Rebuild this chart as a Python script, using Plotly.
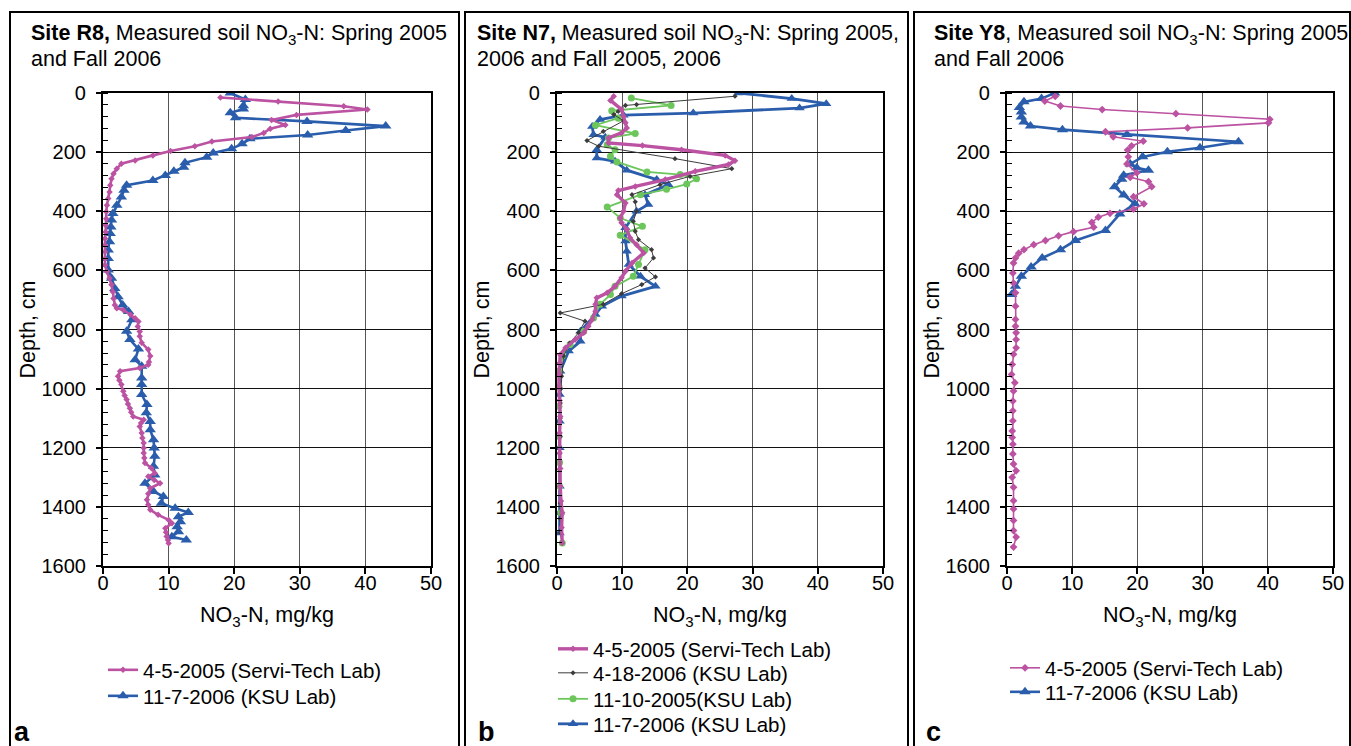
import plotly.graph_objects as go

# ---------------- Data (depth in cm, NO3-N in mg/kg) ----------------
# Panel a: Site R8
r8_0405_depth = [15, 29, 45, 56, 74, 91, 108, 121, 135, 149, 164, 180, 196, 211, 228, 239, 256, 273, 290, 312,
                 335, 357, 380, 402, 425, 447, 470, 492, 515, 537, 560, 582, 604, 627, 649, 672, 695, 717, 728, 734,
                 750, 762, 773, 790, 807, 823, 845, 868, 890, 910, 919, 930, 941, 958, 972, 986, 1009, 1023, 1037, 1052,
                 1066, 1080, 1094, 1105, 1116, 1128, 1150, 1167, 1184, 1201, 1218, 1235, 1252, 1269, 1286, 1297, 1309,
                 1320, 1337, 1356, 1376, 1393, 1410, 1427, 1444, 1455, 1472, 1486, 1500, 1512, 1523]
r8_0405_no3 = [17.9, 26.7, 36.7, 40.3, 29.5, 25.7, 27.8, 25.5, 24.5, 22.7, 16.6, 14.0, 10.3, 7.6, 4.9, 2.8, 2.1, 1.6, 1.3, 1.1,
               1.0, 0.8, 0.6, 0.5, 0.5, 0.4, 0.4, 0.3, 0.3, 0.3, 0.3, 0.3, 0.6, 1.0, 1.3, 1.5, 1.6, 1.8, 2.1, 3.1,
               4.2, 4.9, 5.4, 5.3, 5.6, 5.6, 5.9, 6.9, 7.2, 7.0, 6.9, 5.6, 2.6, 2.3, 2.5, 2.8, 3.1, 3.3, 3.6, 3.8,
               4.1, 4.3, 4.6, 6.2, 5.8, 5.6, 5.9, 6.0, 6.2, 6.2, 6.2, 6.3, 6.4, 7.4, 7.9, 6.9, 7.8,
               8.7, 7.2, 6.9, 6.7, 6.9, 7.2, 8.4, 10.0, 10.5, 9.5, 9.6, 9.7, 9.9, 10.0]
r8_1107_depth = [0, 22, 43, 54, 67, 84, 96, 112, 127, 142, 155, 172, 189, 203, 217, 236, 251, 265, 279, 296,
                 312, 329, 352, 380, 408, 430, 453, 475, 503, 531, 560, 599, 627, 661, 689, 717, 739, 767, 806, 834,
                 866, 902, 924, 964, 986, 1020, 1054, 1082, 1111, 1139, 1173, 1201, 1229, 1263, 1292, 1320, 1348, 1365,
                 1388, 1405, 1419, 1433, 1450, 1467, 1484, 1501, 1512]
r8_1107_no3 = [19.4, 21.7, 21.4, 21.4, 19.4, 20.2, 31.1, 43.1, 37.0, 31.2, 22.4, 21.2, 19.6, 16.8, 15.8, 12.5, 12.3, 10.8, 9.5, 7.6,
               3.6, 3.2, 2.8, 2.1, 1.5, 1.3, 1.2, 1.1, 1.0, 0.8, 0.8, 0.8, 1.3, 1.8, 2.3, 3.0, 3.9, 4.4, 3.6, 4.1,
               5.4, 4.9, 5.9, 5.9, 5.9, 5.9, 6.7, 6.6, 7.2, 7.2, 7.7, 7.8, 7.9, 7.7, 7.9, 6.4, 7.7, 9.2,
               8.9, 11.0, 13.0, 11.5, 11.8, 11.3, 11.5, 10.5, 12.7]

# Panel b: Site N7
n7_0405_depth = [11, 25, 56, 79, 101, 118, 135, 152, 169, 178, 192, 211, 229, 242, 265, 293, 316, 330, 344, 372,
                 400, 423, 439, 462, 490, 513, 541, 575, 603, 625, 654, 676, 693, 715, 738, 766, 789, 811, 834, 862,
                 885, 913, 950, 993, 1040, 1094, 1150, 1218, 1270, 1330, 1380, 1420, 1470, 1522]
n7_0405_no3 = [8.7, 8.2, 9.9, 10.2, 10.5, 10.7, 9.9, 7.9, 7.9, 13.1, 19.1, 25.8, 27.3, 26.3, 21.2, 16.6, 12.0, 9.4, 9.2, 10.5,
               10.2, 9.7, 9.9, 10.7, 11.2, 12.2, 13.3, 11.5, 10.5, 9.9, 8.9, 7.7, 6.1, 5.9, 5.9, 5.4, 4.8, 4.1, 2.8, 1.3,
               0.5, 0.4, 0.3, 0.3, 0.4, 0.5, 0.4, 0.4, 0.5, 0.5, 0.6, 0.8, 0.7, 0.8]
n7_0418_depth = [11, 39, 42, 62, 73, 94, 130, 161, 180, 222, 256, 282, 310, 344, 368, 400, 434, 468, 496, 530,
                 558, 592, 622, 648, 679, 715, 744, 772, 811, 845, 890, 958, 1000, 1049, 1100, 1162, 1220, 1274, 1330,
                 1387, 1440, 1488, 1522]
n7_0418_no3 = [27.3, 12.2, 10.5, 9.4, 8.7, 10.2, 7.1, 4.6, 6.4, 18.1, 26.8, 20.4, 15.8, 11.5, 12.0, 12.2, 11.7, 12.0, 12.5, 14.5,
               14.8, 13.5, 15.1, 13.0, 9.9, 7.1, 0.5, 4.3, 3.3, 2.0, 1.0, 0.7, 0.6, 0.5, 0.5, 0.5, 0.4, 0.4, 0.5,
               0.5, 0.5, 0.5, 0.8]
n7_1110_depth = [17, 42, 60, 85, 109, 137, 152, 175, 192, 214, 233, 267, 276, 290, 308, 326, 344, 386, 423, 451,
                 481, 530, 580, 620, 654, 682, 715, 761, 806, 851, 890, 940, 993, 1060, 1162, 1250, 1330, 1420, 1522]
n7_1110_no3 = [11.4, 17.5, 8.4, 9.4, 5.9, 12.0, 7.9, 7.7, 8.9, 8.2, 9.2, 13.8, 18.9, 21.4, 19.9, 16.8, 12.8, 7.7, 9.7, 13.1,
               9.7, 13.5, 12.5, 11.7, 8.9, 8.2, 6.6, 5.6, 4.1, 2.0, 0.8, 0.4, 0.3, 0.3, 0.3, 0.4, 0.4, 0.6, 0.8]
n7_1107_depth = [0, 19, 36, 51, 68, 75, 90, 113, 141, 150, 192, 220, 231, 261, 293, 310, 344, 377, 400, 456,
                 501, 535, 580, 620, 654, 687, 721, 749, 806, 840, 873, 941, 1020, 1110, 1200, 1330, 1420, 1488]
n7_1107_no3 = [27.8, 36.0, 41.3, 37.2, 20.9, 10.2, 6.6, 5.4, 5.6, 7.4, 6.1, 6.1, 8.9, 10.7, 15.3, 17.1, 13.5, 14.0, 12.2, 10.5,
               10.5, 10.7, 11.0, 12.8, 15.1, 9.9, 6.9, 5.9, 3.6, 3.6, 1.8, 0.5, 0.4, 0.4, 0.4, 0.4, 0.4, 0.4]

# Panel c: Site Y8
y8_0405_depth = [11, 27, 44, 56, 70, 89, 101, 118, 131, 148, 163, 179, 193, 216, 240, 270, 285, 300, 317, 351,
                 375, 393, 407, 420, 438, 454, 469, 483, 499, 513, 530, 542, 558, 575, 609, 643, 676, 721, 766, 789,
                 811, 834, 862, 884, 918, 952, 980, 1008, 1042, 1075, 1109, 1143, 1165, 1188, 1221, 1255, 1278, 1300,
                 1334, 1379, 1407, 1446, 1480, 1502, 1536]
y8_0405_no3 = [7.4, 5.8, 8.2, 14.6, 25.9, 40.3, 40.1, 27.7, 15.1, 16.3, 20.9, 19.1, 18.5, 18.6, 18.4, 19.9, 18.9, 21.7, 22.2, 19.4,
               21.0, 19.4, 15.8, 14.0, 13.0, 13.3, 10.2, 7.9, 5.9, 4.1, 2.6, 1.8, 1.3, 1.0, 0.9, 1.0, 1.3, 1.3, 1.3, 1.3,
               1.4, 1.4, 1.4, 1.0, 0.8, 0.7, 1.2, 1.0, 0.9, 0.9, 0.9, 0.8, 0.8, 0.9, 0.9, 1.0, 1.4, 0.8,
               1.0, 1.0, 1.0, 1.0, 1.0, 1.4, 1.0]
y8_1107_depth = [0, 19, 30, 49, 64, 81, 98, 112, 124, 140, 165, 185, 199, 216, 240, 253, 261, 278, 292, 317,
                 345, 375, 409, 465, 499, 530, 558, 589, 620, 654, 682]
y8_1107_no3 = [7.3, 5.3, 2.6, 1.9, 2.2, 2.2, 2.6, 3.6, 8.5, 18.4, 35.5, 29.6, 24.6, 20.8, 18.9, 19.9, 21.7, 17.9, 17.6, 16.5,
               17.9, 19.6, 17.3, 15.1, 10.5, 8.2, 5.4, 3.7, 2.2, 1.3, 0.7]

x_ticks = [0, 10, 20, 30, 40, 50]
y_ticks = [0, 200, 400, 600, 800, 1000, 1200, 1400, 1600]

# ---------------- Styles ----------------
W, H = 1351, 746
FONT = "Liberation Sans, Arial, sans-serif"
TXT = 21.5
MAG = "#BC52A2"
BLU = "#2A5DAB"
GRN = "#6CC65C"
BLK = "#3C3C3C"

fig = go.Figure()
legends = {}

def px_leg(x_text, y_center):
    # single-entry legend placed by the pixel position of its text start / row center
    return dict(x=(x_text - 41) / W, y=1 - y_center / H, xanchor="left", yanchor="middle",
                bgcolor="rgba(0,0,0,0)", font=dict(size=20.5, family=FONT), itemwidth=30)

def add(x, y, name, color, lw, sym, ms, xa, ya, leg, legpos):
    fig.add_trace(go.Scatter(
        x=x, y=y, name=name, mode="lines+markers",
        line=dict(color=color, width=lw),
        marker=dict(symbol=sym, size=ms, color=color, line=dict(width=0)),
        xaxis=xa, yaxis=ya, legend=leg))
    legends[leg] = px_leg(*legpos)

# panel a (blue drawn first so magenta is on top)
add(r8_1107_no3, r8_1107_depth, "11-7-2006 (KSU Lab)", BLU, 2.6, "triangle-up", 10, "x", "y", "legend2", (144, 696))
add(r8_0405_no3, r8_0405_depth, "4-5-2005 (Servi-Tech Lab)", MAG, 2.6, "diamond", 5, "x", "y", "legend", (144, 670))
# panel b
add(n7_1107_no3, n7_1107_depth, "11-7-2006 (KSU Lab)", BLU, 2.8, "triangle-up", 9, "x2", "y2", "legend6", (594, 724))
add(n7_1110_no3, n7_1110_depth, "11-10-2005(KSU Lab)", GRN, 1.8, "circle", 7, "x2", "y2", "legend5", (594, 699))
add(n7_0418_no3, n7_0418_depth, "4-18-2006 (KSU Lab)", BLK, 1.0, "diamond", 4, "x2", "y2", "legend4", (594, 673))
add(n7_0405_no3, n7_0405_depth, "4-5-2005 (Servi-Tech Lab)", MAG, 3.4, "diamond", 5, "x2", "y2", "legend3", (594, 649))
# panel c
add(y8_1107_no3, y8_1107_depth, "11-7-2006 (KSU Lab)", BLU, 2.6, "triangle-up", 10, "x3", "y3", "legend8", (1046, 692))
add(y8_0405_no3, y8_0405_depth, "4-5-2005 (Servi-Tech Lab)", MAG, 1.6, "diamond", 6, "x3", "y3", "legend7", (1046, 668))

xdoms = [[103 / W, 431 / W], [557 / W, 883 / W], [1007 / W, 1333 / W]]
ydom = [1 - 566 / H, 1 - 93 / H]

layout = dict(
    width=W, height=H, margin=dict(l=0, r=0, t=0, b=0, autoexpand=False),
    paper_bgcolor="white", plot_bgcolor="white",
    font=dict(family=FONT, size=20, color="black"),
    showlegend=True,
)
layout.update(legends)

for i in range(3):
    sx = "" if i == 0 else str(i + 1)
    layout["xaxis" + sx] = dict(
        domain=xdoms[i], anchor="y" + sx, range=[0, 50], tickvals=x_ticks,
        ticks="outside", ticklen=6, tickwidth=1.5, tickcolor="black",
        showgrid=True, gridcolor="#555555", gridwidth=1.3,
        showline=True, linecolor="black", linewidth=2.2, mirror=True, zeroline=False,
        tickfont=dict(size=20), ticklabelstandoff=-8, fixedrange=True, automargin=False,
        title=dict(text="NO<sub>3</sub>-N, mg/kg", font=dict(size=TXT), standoff=14),
    )
    layout["yaxis" + sx] = dict(
        domain=ydom, anchor="x" + sx, range=[1600, 0], tickvals=y_ticks,
        ticks="outside", ticklen=5, tickwidth=1.5, tickcolor="black",
        minor=dict(dtick=40, ticks="inside", ticklen=5, tickwidth=1.2, tickcolor="black", showgrid=False),
        showgrid=True, gridcolor="#111111", gridwidth=1.3,
        showline=True, linecolor="black", linewidth=2.2, mirror=True, zeroline=False,
        tickfont=dict(size=20), ticklabelstandoff=6, fixedrange=True, automargin=False,
        title=dict(text="Depth, cm", font=dict(size=TXT), standoff=0),
    )
    # top axis carrying the small inner ticks
    layout["xaxis" + str(i + 4)] = dict(
        overlaying="x" + sx, anchor="y" + sx, side="top", range=[0, 50], dtick=10,
        ticks="inside", ticklen=5, tickwidth=1.2, tickcolor="black", showticklabels=False,
        minor=dict(dtick=2, ticks="inside", ticklen=5, tickwidth=1.2, tickcolor="black", showgrid=False),
        showgrid=False, showline=False, zeroline=False, fixedrange=True, automargin=False,
    )

# panel frames
shapes = []
for x0, x1 in [(10, 459), (465, 908), (914, 1350)]:
    shapes.append(dict(type="rect", xref="paper", yref="paper",
                       x0=x0 / W, x1=x1 / W, y0=-0.01, y1=1 - 12 / H,
                       line=dict(color="black", width=2)))
layout["shapes"] = shapes

titles = [
    (30, "<b>Site R8,</b> Measured soil NO<sub>3</sub>-N: Spring 2005", "and Fall 2006"),
    (476, "<b>Site N7,</b> Measured soil NO<sub>3</sub>-N: Spring 2005,", "2006 and Fall 2005, 2006"),
    (933, "<b>Site Y8</b>, Measured soil NO<sub>3</sub>-N: Spring 2005", "and Fall 2006"),
]
ann = []
for x, t1, t2 in titles:
    for yy, t in [(34, t1), (59, t2)]:
        ann.append(dict(text=t, x=x / W, y=1 - yy / H, xref="paper", yref="paper",
                        xanchor="left", yanchor="middle", align="left", showarrow=False,
                        font=dict(size=TXT, family=FONT), borderpad=0))
for x, t in [(12, "a"), (476, "b"), (924, "c")]:
    ann.append(dict(text="<b>" + t + "</b>", x=x / W, y=1 - 732 / H, xref="paper", yref="paper",
                    xanchor="left", yanchor="middle", showarrow=False,
                    font=dict(size=27, family=FONT)))
layout["annotations"] = ann

fig.update_layout(**layout)
fig.write_html("out.html")
